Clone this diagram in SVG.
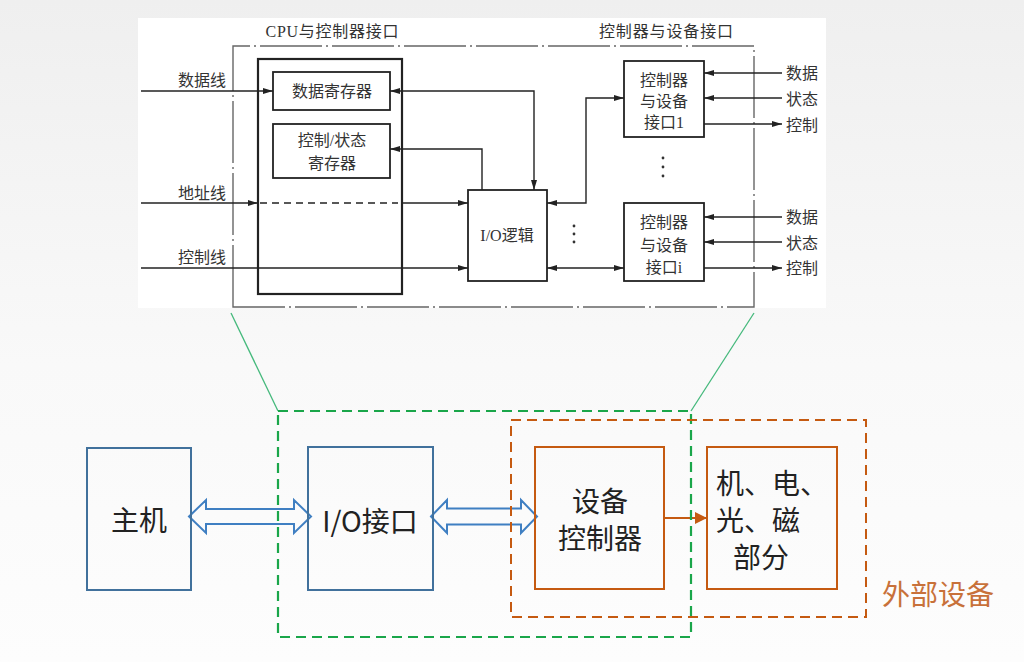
<svg xmlns="http://www.w3.org/2000/svg" width="1024" height="662" viewBox="0 0 1024 662">
<defs>
<linearGradient id="bg" x1="0" y1="0" x2="0" y2="1">
<stop offset="0" stop-color="#efefef"/>
<stop offset="0.55" stop-color="#f9f9f9"/>
<stop offset="1" stop-color="#fdfdfd"/>
</linearGradient>
<marker id="ah" markerUnits="userSpaceOnUse" markerWidth="10" markerHeight="6" refX="10" refY="3" orient="auto-start-reverse">
<path d="M0,0 L10,3 L0,6 z" fill="#222"/>
</marker>
<marker id="oh" markerUnits="userSpaceOnUse" markerWidth="12" markerHeight="12" refX="12" refY="6" orient="auto">
<path d="M0,0 L12,6 L0,12 z" fill="#c55a11"/>
</marker>
<style>
.ln{fill:none;stroke:#222;stroke-width:1.4}
.bx{fill:none;stroke:#222;stroke-width:1.8}
.bx2{fill:none;stroke:#222;stroke-width:2.2}
.t{font-family:"Liberation Serif","Noto Sans CJK SC",serif;font-size:16px;fill:#333}
.tm{text-anchor:middle;dominant-baseline:central}
.blue{fill:none;stroke:#41719c;stroke-width:2}
.orange{fill:none;stroke:#c55a11;stroke-width:2}
.bt{font-family:"Noto Sans CJK SC","Liberation Sans",sans-serif;font-size:28px;fill:#222;text-anchor:middle;dominant-baseline:central}
.barrow{fill:none;stroke:#3f7fc2;stroke-width:2;stroke-linejoin:miter}
</style>
</defs>
<rect width="1024" height="662" fill="url(#bg)"/>
<rect x="138" y="18" width="688" height="290" fill="#ffffff"/>

<g id="inset-frame">
<path d="M233,307 V46 H754 V307 Z" fill="none" stroke="#666" stroke-width="1.4" stroke-dasharray="62 4 2 4"/>
<text class="t tm" x="332" y="31" textLength="133">CPU与控制器接口</text>
<text class="t tm" x="666" y="31" textLength="134">控制器与设备接口</text>
</g>

<g id="cpu-box"><rect class="bx2" x="258" y="59" width="144" height="235"/></g>
<g id="data-reg"><rect class="bx" x="273" y="72" width="117" height="38"/><text class="t tm" x="332" y="91">数据寄存器</text></g>
<g id="ctrl-reg"><rect class="bx" x="273" y="124" width="117" height="54"/><text class="t tm" x="332" y="140">控制/状态</text><text class="t tm" x="332" y="163">寄存器</text></g>
<g id="io-logic"><rect class="bx" x="468" y="190" width="79" height="91"/><text class="t tm" x="507" y="235">I/O逻辑</text></g>
<g id="dev-if-1"><rect class="bx" x="624" y="61" width="80" height="76"/><text class="t tm" x="664" y="80">控制器</text><text class="t tm" x="664" y="101">与设备</text><text class="t tm" x="664" y="122">接口1</text></g>
<g id="dev-if-i"><rect class="bx" x="624" y="203" width="80" height="78"/><text class="t tm" x="664" y="222">控制器</text><text class="t tm" x="664" y="245">与设备</text><text class="t tm" x="664" y="267">接口i</text></g>

<g id="inset-labels">
<text class="t tm" x="202" y="80">数据线</text>
<text class="t tm" x="202" y="193">地址线</text>
<text class="t tm" x="202" y="257">控制线</text>
<text class="t" x="786" y="73" dominant-baseline="central">数据</text>
<text class="t" x="786" y="99" dominant-baseline="central">状态</text>
<text class="t" x="786" y="125" dominant-baseline="central">控制</text>
<text class="t" x="786" y="217" dominant-baseline="central">数据</text>
<text class="t" x="786" y="243" dominant-baseline="central">状态</text>
<text class="t" x="786" y="268" dominant-baseline="central">控制</text>
<g fill="#333">
<circle cx="663" cy="158" r="1.4"/><circle cx="663" cy="167" r="1.4"/><circle cx="663" cy="176" r="1.4"/>
<circle cx="574" cy="226" r="1.4"/><circle cx="574" cy="234" r="1.4"/><circle cx="574" cy="242" r="1.4"/>
</g>
</g>

<g id="connectors">
<path class="ln" d="M141,91 H273" marker-end="url(#ah)"/>
<path class="ln" d="M141,203 H258" marker-end="url(#ah)"/>
<path class="ln" d="M260,203 H398" stroke-dasharray="7 5"/>
<path class="ln" d="M402,203 H468" marker-end="url(#ah)"/>
<path class="ln" d="M141,268 H468" marker-end="url(#ah)"/>
<path class="ln" d="M534,190 V91 H390" marker-start="url(#ah)" marker-end="url(#ah)"/>
<path class="ln" d="M482,190 V149 H390" marker-end="url(#ah)"/>
<path class="ln" d="M547,203 H586 V98 H624" marker-start="url(#ah)" marker-end="url(#ah)"/>
<path class="ln" d="M547,268 H624" marker-start="url(#ah)" marker-end="url(#ah)"/>
<path class="ln" d="M782,73 H704" marker-end="url(#ah)"/>
<path class="ln" d="M782,98 H704" marker-end="url(#ah)"/>
<path class="ln" d="M704,124 H782" marker-end="url(#ah)"/>
<path class="ln" d="M782,217 H704" marker-end="url(#ah)"/>
<path class="ln" d="M782,242 H704" marker-end="url(#ah)"/>
<path class="ln" d="M704,268 H782" marker-end="url(#ah)"/>
<path d="M231,313 L278,411" fill="none" stroke="#45b97c" stroke-width="1.3"/>
<path d="M754,313 L691,411" fill="none" stroke="#45b97c" stroke-width="1.3"/>
<polygon class="barrow" points="189,516.5 206,500 206,509 294,509 294,500 311,516.5 294,533 294,524 206,524 206,533"/>
<polygon class="barrow" points="431,516.5 447,500 447,508.5 521,508.5 521,500 537,516.5 521,533 521,524.5 447,524.5 447,533"/>
<path d="M664,518 H707" fill="none" stroke="#c55a11" stroke-width="2" marker-end="url(#oh)"/>
</g>

<g id="group-io">
<rect x="278" y="411" width="413" height="226" fill="none" stroke="#1aa64a" stroke-width="2.2" stroke-dasharray="10 6"/>
</g>
<g id="group-external">
<rect x="511" y="420" width="355" height="197" fill="none" stroke="#c55a11" stroke-width="2" stroke-dasharray="10 6"/>
<text x="938" y="593" font-family="Noto Sans CJK SC, sans-serif" font-size="28" fill="#c8713a" text-anchor="middle" dominant-baseline="central">外部设备</text>
</g>

<g id="host"><rect class="blue" x="87" y="448" width="104" height="142"/><text class="bt" x="139" y="519">主机</text></g>
<g id="io-if"><rect class="blue" x="308" y="447" width="125" height="143"/><text class="bt" x="370" y="520">I/O接口</text></g>
<g id="dev-ctrl"><rect class="orange" x="535" y="447" width="129" height="142"/><text class="bt" x="600" y="500">设备</text><text class="bt" x="600" y="537">控制器</text></g>
<g id="mech"><rect class="orange" x="707" y="447" width="130" height="142"/>
<text class="bt" x="716" y="482" style="text-anchor:start">机、电、</text>
<text class="bt" x="716" y="519" style="text-anchor:start">光、磁</text>
<text class="bt" x="761" y="556">部分</text></g>
</svg>
